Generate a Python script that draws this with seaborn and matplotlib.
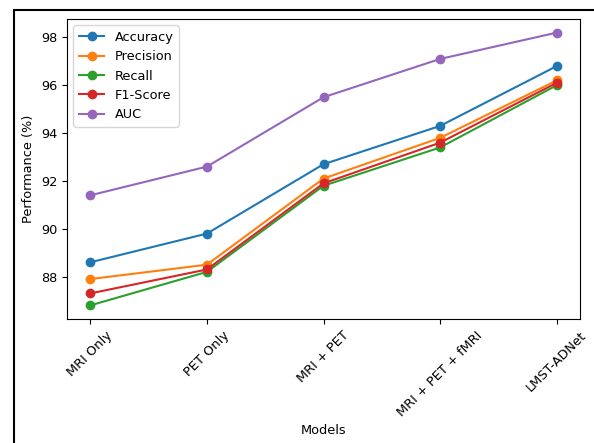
import matplotlib
matplotlib.use("Agg")
import matplotlib.pyplot as plt
from matplotlib.patches import Rectangle
import seaborn as sns
import pandas as pd

models = ["MRI Only", "PET Only", "MRI + PET", "MRI + PET + fMRI", "LMST-ADNet"]
accuracy = [88.6, 89.8, 92.7, 94.3, 96.8]
precision = [87.9, 88.5, 92.1, 93.8, 96.2]
recall = [86.8, 88.2, 91.8, 93.4, 96.0]
f1_score = [87.3, 88.3, 91.9, 93.6, 96.1]
auc = [91.4, 92.6, 95.5, 97.1, 98.2]

series = {
    "Accuracy": accuracy,
    "Precision": precision,
    "Recall": recall,
    "F1-Score": f1_score,
    "AUC": auc,
}
colors = ["#1f77b4", "#ff7f0e", "#2ca02c", "#d62728", "#9467bd"]

fs = 9.3
plt.rcParams["font.size"] = fs

fig = plt.figure(figsize=(5.94, 4.43), dpi=100)
ax = fig.add_axes([67 / 594, 1 - 319 / 443, (580 - 67) / 594, (319 - 19) / 443])

for (name, vals), c in zip(series.items(), colors):
    df = pd.DataFrame({"Model": models, "Value": vals})
    sns.lineplot(data=df, x="Model", y="Value", marker="o", color=c,
                 markersize=6, markeredgecolor=c, markeredgewidth=1,
                 linewidth=1.5, label=name, ax=ax, sort=False)

ax.set_xlabel("Models", fontsize=fs)
ax.set_ylabel("Performance (%)", fontsize=fs)
ax.tick_params(axis="both", labelsize=fs)
ax.tick_params(axis="x", labelrotation=45)
ax.legend(loc="upper left", fontsize=fs)
ax.margins(x=0.05)

# outer frame around the figure
fig.patches.append(Rectangle((13.5 / 594, -0.2), 1.2, 1.2 - 10 / 443,
                             transform=fig.transFigure, fill=False,
                             edgecolor="black", linewidth=1.5, clip_on=False))

fig.savefig("out.png", dpi=100)
